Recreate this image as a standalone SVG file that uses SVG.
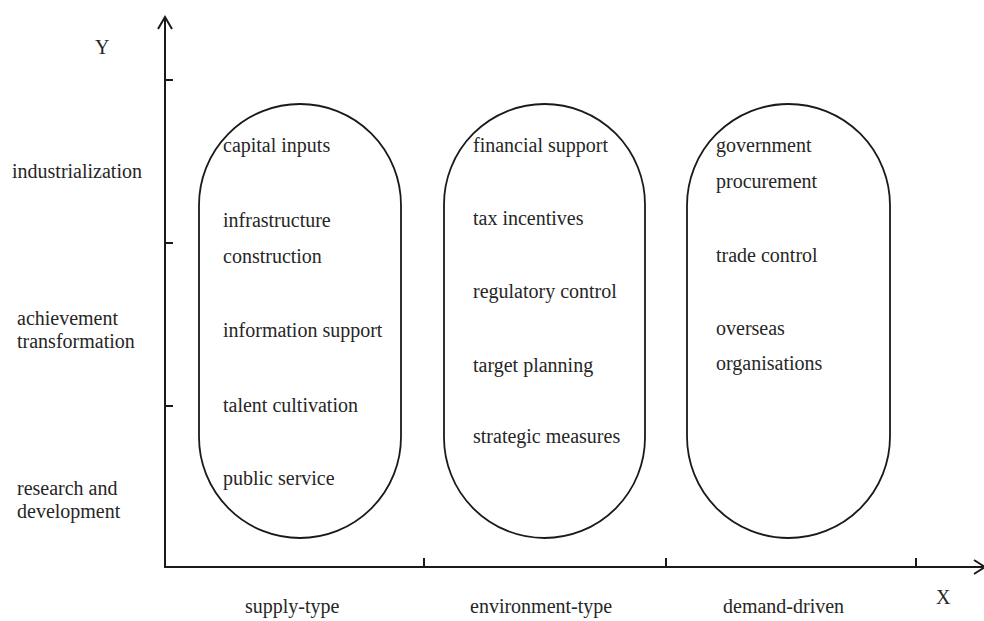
<svg xmlns="http://www.w3.org/2000/svg" width="984" height="621" viewBox="0 0 984 621">
<style>
text{font-family:'Liberation Serif',serif;font-size:20px;fill:#262626}
.ln{stroke:#1a1a1a;stroke-width:2;fill:none}
.cap{stroke:#1a1a1a;stroke-width:1.8;fill:none}
</style>
<rect width="984" height="621" fill="#fff"/>
<g id="axes">
<line class="ln" x1="165" y1="17" x2="165" y2="568"/>
<line class="ln" x1="164" y1="567" x2="983" y2="567"/>
<polyline class="ln" points="158,29 165,17 172,29"/>
<polyline class="ln" points="974,560 985,567 974,574"/>
<line class="ln" x1="165" y1="80" x2="173" y2="80"/>
<line class="ln" x1="165" y1="243" x2="173" y2="243"/>
<line class="ln" x1="165" y1="406" x2="173" y2="406"/>
<line class="ln" x1="424" y1="558" x2="424" y2="567"/>
<line class="ln" x1="666" y1="558" x2="666" y2="567"/>
<line class="ln" x1="916" y1="558" x2="916" y2="567"/>
<text x="95" y="54">Y</text>
<text x="936" y="604">X</text>
</g>
<g id="y-labels">
<text x="12" y="178">industrialization</text>
<text x="17" y="325">achievement</text>
<text x="17" y="348">transformation</text>
<text x="17" y="495">research and</text>
<text x="17" y="518">development</text>
</g>
<g id="x-labels">
<text x="245" y="613">supply-type</text>
<text x="470" y="613">environment-type</text>
<text x="723" y="613">demand-driven</text>
</g>
<g id="supply">
<rect class="cap" x="199" y="104" width="202" height="434" rx="101" ry="101"/>
<text x="223" y="152">capital inputs</text>
<text x="223" y="227">infrastructure</text>
<text x="223" y="263">construction</text>
<text x="223" y="337">information support</text>
<text x="223" y="412">talent cultivation</text>
<text x="223" y="485">public service</text>
</g>
<g id="environment">
<rect class="cap" x="444" y="104" width="201" height="434" rx="100.5" ry="100.5"/>
<text x="473" y="152">financial support</text>
<text x="473" y="225">tax incentives</text>
<text x="473" y="298">regulatory control</text>
<text x="473" y="372">target planning</text>
<text x="473" y="443">strategic measures</text>
</g>
<g id="demand">
<rect class="cap" x="687" y="104" width="203" height="434" rx="101.5" ry="101.5"/>
<text x="716" y="152">government</text>
<text x="716" y="188">procurement</text>
<text x="716" y="262">trade control</text>
<text x="716" y="335">overseas</text>
<text x="716" y="370">organisations</text>
</g>
</svg>
